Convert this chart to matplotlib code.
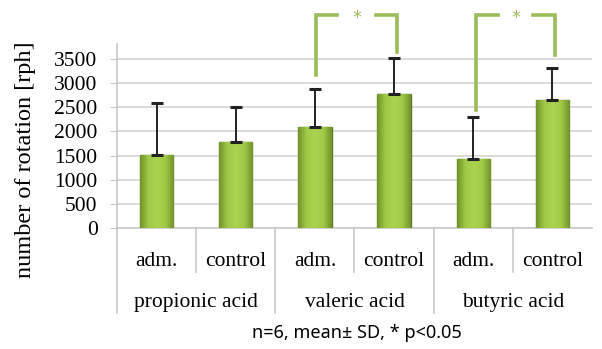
import matplotlib
matplotlib.use("Agg")
import matplotlib.pyplot as plt
import numpy as np
from matplotlib.colors import LinearSegmentedColormap

# data
groups = ["propionic acid", "valeric acid", "butyric acid"]
subs = ["adm.", "control", "adm.", "control", "adm.", "control"]
means = [1520, 1790, 2090, 2780, 1420, 2650]
sds = [1070, 710, 780, 750, 880, 660]
yticks = [0, 500, 1000, 1500, 2000, 2500, 3000, 3500]

green = "#9bbb59"
serif = "Liberation Serif"

fig = plt.figure(figsize=(6.02, 3.49), dpi=100)
ax = fig.add_axes([117/602, (349-228)/349, (592-117)/602, (228-44)/349])
ax.set_xlim(-0.5, 5.5)
ax.set_ylim(0, 3811)

x = np.arange(len(means))
bars = ax.bar(x, means, width=0.42, color="#8db33a", edgecolor="#5d7d23",
              linewidth=1.0, zorder=3)

# gradient fill for bevel look
cmap = LinearSegmentedColormap.from_list(
    "g", ["#71932a", "#a0ca46", "#aad44f", "#a0ca46", "#71932a"])
grad = np.linspace(0, 1, 64).reshape(1, -1)
for b in bars:
    im = ax.imshow(grad, cmap=cmap, aspect="auto", zorder=3.5,
                   extent=[b.get_x(), b.get_x() + b.get_width(), 0, b.get_height()])
    im.set_clip_path(b)

ax.errorbar(x, means, yerr=[np.zeros(len(sds)), sds], fmt="none",
            ecolor="#222222", elinewidth=1.4, capsize=4, capthick=2.2, zorder=4)

# grid and axes
ax.set_yticks(yticks)
ax.set_yticklabels([str(v) for v in yticks], fontfamily=serif, fontsize=15.5)
ax.yaxis.grid(True, color="#d4d4d4", linewidth=1.2, zorder=0)
ax.set_xticks([])
for s in ["top", "right", "bottom"]:
    ax.spines[s].set_visible(False)
ax.spines["left"].set_color("#c8c8c8")
ax.spines["left"].set_linewidth(1.2)
ax.tick_params(axis="y", length=5, color="#c8c8c8", pad=9)

# category axis (two-level)
lvl1 = -704
lvl2 = -1533
for i, s in enumerate(subs):
    ax.text(i, lvl1, s, ha="center", va="center", fontfamily=serif,
            fontsize=15.5, clip_on=False)
for j, g in enumerate(groups):
    ax.text(2 * j + 0.5, lvl2, g, ha="center", va="center", fontfamily=serif,
            fontsize=15.5, clip_on=False)
for k in [0.5, 2.5, 4.5]:
    ax.plot([k, k], [0, -911], color="#c8c8c8", lw=1.2, clip_on=False)
for k in [-0.5, 1.5, 3.5]:
    ax.plot([k, k], [0, -1760], color="#c8c8c8", lw=1.2, clip_on=False)
ax.plot([-0.5, 5.5], [0, 0], color="#c8c8c8", lw=1.2, clip_on=False, zorder=2)

# significance brackets
def bracket(x1, x2, ytop, yl, yr):
    ax.plot([x1, x1, x1 + 0.27], [yl, ytop, ytop], color=green, lw=2.6,
            clip_on=False, solid_joinstyle="miter")
    ax.plot([x2 - 0.27, x2, x2], [ytop, ytop, yr], color=green, lw=2.6,
            clip_on=False, solid_joinstyle="miter")
    ax.text((x1 + x2) / 2, ytop - 60, "*", color=green, ha="center", va="center",
            fontsize=13, clip_on=False)

bracket(2.01, 3.04, 4411, 3169, 3645)
bracket(4.04, 5.03, 4411, 2444, 3583)

fig.text(26/602, 1 - 160/349, "number of rotation [rph]", rotation=90,
         ha="center", va="center", fontfamily=serif, fontsize=17.5)

fig.text(357/602, 1 - 333/349, "n=6, mean\u00b1 SD, * p<0.05", ha="center",
         va="center", fontfamily="Noto Sans", fontsize=13)

fig.savefig("out.png", dpi=100)
